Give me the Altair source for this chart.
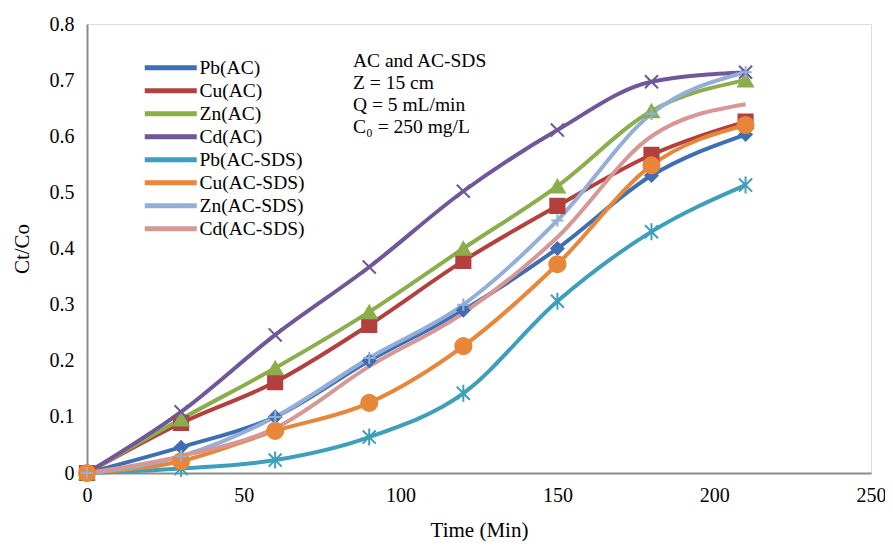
import altair as alt
import pandas as pd

times = [0, 30, 60, 90, 120, 150, 180, 210]
series_names = ["Pb(AC)", "Cu(AC)", "Zn(AC)", "Cd(AC)",
                "Pb(AC-SDS)", "Cu(AC-SDS)", "Zn(AC-SDS)", "Cd(AC-SDS)"]
pb_ac = [0, 0.046, 0.100, 0.200, 0.290, 0.400, 0.530, 0.603]
cu_ac = [0, 0.089, 0.162, 0.264, 0.378, 0.476, 0.567, 0.626]
zn_ac = [0, 0.096, 0.187, 0.287, 0.400, 0.511, 0.645, 0.700]
cd_ac = [0, 0.109, 0.246, 0.367, 0.502, 0.611, 0.697, 0.714]
pb_sds = [0, 0.008, 0.023, 0.064, 0.142, 0.306, 0.430, 0.513]
cu_sds = [0, 0.021, 0.075, 0.125, 0.226, 0.372, 0.548, 0.620]
zn_sds = [0, 0.030, 0.100, 0.205, 0.300, 0.450, 0.640, 0.714]
cd_sds = [0, 0.030, 0.080, 0.190, 0.285, 0.420, 0.600, 0.657]
all_values = [pb_ac, cu_ac, zn_ac, cd_ac, pb_sds, cu_sds, zn_sds, cd_sds]

colors = ["#3F6FB3", "#B3403D", "#8AAE4A", "#70579A",
          "#3D9FBA", "#E8863A", "#93AED9", "#D69795"]
X_PATH = "M-1,-1L1,1M-1,1L1,-1"
STAR_PATH = "M-1,-1L1,1M-1,1L1,-1M0,-1.3L0,1.3"
PLUS_PATH = "M-1,0L1,0M0,-1L0,1"
shapes = ["diamond", "square", "triangle-up", X_PATH,
          STAR_PATH, "circle", PLUS_PATH, None]
sizes = [150, 200, 210, 170, 170, 260, 150, 0]

rows = []
for name, vals in zip(series_names, all_values):
    for t, v in zip(times, vals):
        rows.append({"Series": name, "Time": t, "Value": v,
                     "order": series_names.index(name)})
df = pd.DataFrame(rows)

font = "Liberation Serif"

x_enc = alt.X("Time:Q", scale=alt.Scale(domain=[0, 250], nice=False),
              axis=alt.Axis(values=[0, 50, 100, 150, 200, 250], title="Time (Min)",
                            grid=False, ticks=False, domainColor="#8C8C8C",
                            domainWidth=2, labelFont=font, labelFontSize=20,
                            labelColor="black", labelPadding=12, labelFlush=False,
                            labelOverlap=False,
                            titleFont=font, titleFontSize=21, titleFontWeight="normal",
                            titleColor="black", titlePadding=14))
y_enc = alt.Y("Value:Q", scale=alt.Scale(domain=[0, 0.8], nice=False),
              axis=alt.Axis(values=[0, 0.1, 0.2, 0.3, 0.4, 0.5, 0.6, 0.7, 0.8],
                            format=".1~f", title="Ct/Co", grid=False, ticks=False,
                            domainColor="#8C8C8C", domainWidth=2, labelFont=font,
                            labelFontSize=20, labelColor="black", labelPadding=13,
                            labelFlush=False, labelOverlap=False,
                            titleFont=font, titleFontSize=21, titleFontWeight="normal",
                            titleColor="black", titlePadding=17))

color_scale = alt.Scale(domain=series_names, range=colors)

LEGEND_LINE = "M-4,0L4,0"

lines = alt.Chart(df).mark_line(interpolate="monotone", strokeWidth=4).encode(
    x=x_enc, y=y_enc,
    color=alt.Color("Series:N", scale=color_scale, sort=series_names,
                    legend=alt.Legend(title=None, orient="none", legendX=74, legendY=34,
                                      symbolType=LEGEND_LINE, symbolSize=169,
                                      symbolStrokeWidth=5, labelFont=font,
                                      labelFontSize=19.5, labelColor="black",
                                      rowPadding=2, labelOffset=19)),
    order=alt.Order("order:Q"),
)

point_layers = []
for name, shp, col, sz in zip(series_names, shapes, colors, sizes):
    if shp is None:
        continue
    point_layers.append(
        alt.Chart(df[df["Series"] == name]).mark_point(
            shape=shp, filled=True, size=sz, color=col, stroke=col,
            strokeWidth=2, opacity=1).encode(x="Time:Q", y="Value:Q")
    )

note = alt.Chart(pd.DataFrame({"t": ["AC and AC-SDS\nZ = 15 cm\nQ = 5 mL/min\nC₀ = 250 mg/L"]})).mark_text(
    align="left", baseline="top", font=font, fontSize=19.5, lineHeight=22,
    lineBreak="\n", color="black").encode(
    x=alt.value(266), y=alt.value(28), text="t:N")

chart = alt.layer(lines, *point_layers, note).properties(
    width=784, height=449,
    autosize=alt.AutoSizeParams(type="none"),
    padding={"left": 79, "top": 16, "right": 14, "bottom": 68},
).configure_view(stroke="black", strokeWidth=2).configure(background="white")

chart.save("out.html", embed_options={"renderer": "svg", "actions": False})
